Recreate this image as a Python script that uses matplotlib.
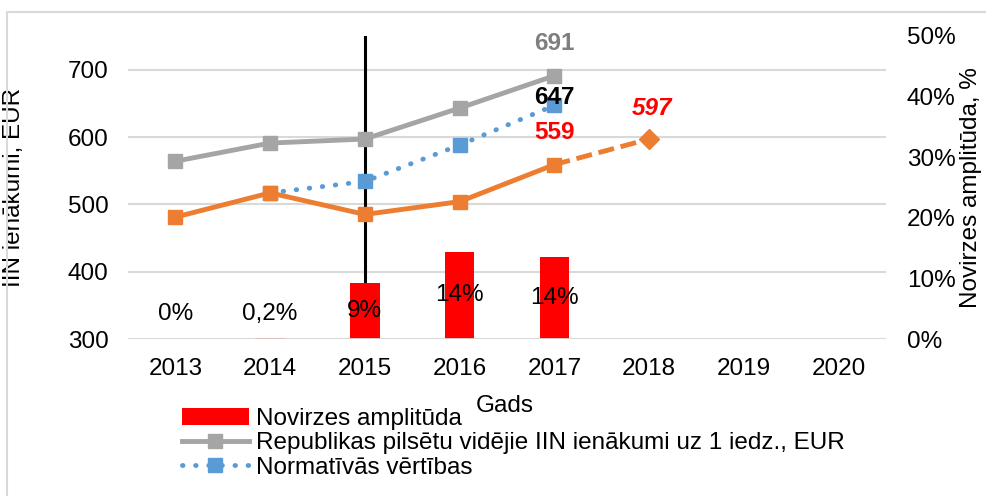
import matplotlib
matplotlib.use('Agg')
import matplotlib.pyplot as plt
from matplotlib.patches import Rectangle
import numpy as np

plt.rcParams['font.family'] = ['Liberation Sans', 'DejaVu Sans']

years = ['2013', '2014', '2015', '2016', '2017', '2018', '2019', '2020']
amplitude = [0.0, 0.2, 9.2, 14.4, 13.6]          # %
amplitude_labels = ['0%', '0,2%', '9%', '14%', '14%']
republic_avg = [564, 591, 597, 643, 691]         # 2013-2017
normative = [517, 534, 588, 647]                 # 2014-2017
city = [481, 517, 485, 504, 559]                 # 2013-2017
forecast = [559, 597]                            # 2017-2018

GREY = '#A5A5A5'
ORANGE = '#ED7D31'
BLUE = '#5B9BD5'
RED = '#FF0000'
FS = 17.5

fig = plt.figure(figsize=(9.86, 4.96), dpi=100)
ax = fig.add_axes([128 / 986, 1 - 339 / 496, (886 - 128) / 986, (339 - 36) / 496])
ax2 = ax.twinx()

x = np.arange(len(years))

# grid + marker line for 2015
ax.set_ylim(300, 750)
ax.set_yticks([300, 400, 500, 600, 700])
ax.set_xlim(-0.5, len(years) - 0.5)
ax.yaxis.grid(True, color='#D9D9D9', lw=1.5)
ax.set_axisbelow(True)
ax.axvline(2, color='black', lw=2.2, zorder=1)

# lines
ax.plot(x[:5], republic_avg, color=GREY, lw=3.5, marker='s', ms=10, zorder=3,
        label='Republikas pilsētu vidējie IIN ienākumi uz 1 iedz., EUR')
ax.plot(x[1:5], normative, color=BLUE, lw=3.5, ls=(0, (0.1, 2.6)), dash_capstyle='round',
        marker='s', ms=10, zorder=3, label='Normatīvās vērtības')
ax.plot(x[:5], city, color=ORANGE, lw=3.5, marker='s', ms=10, zorder=3)
ax.plot(x[4:6], forecast, color=ORANGE, lw=3.5, ls=(0, (3.3, 1.4)), zorder=3)
ax.plot(x[5], forecast[1], color=ORANGE, marker='D', ms=10, ls='none', zorder=3)

# value labels
ax.annotate(str(republic_avg[-1]), (x[4], republic_avg[-1]), xytext=(0, 23), textcoords='offset points',
            ha='center', va='center', fontsize=FS, fontweight='bold', color='#7F7F7F')
ax.annotate(str(normative[-1]), (x[4], normative[-1]), xytext=(0, 6), textcoords='offset points',
            ha='center', va='center', fontsize=FS, fontweight='bold', color='black', zorder=5)
ax.annotate(str(city[-1]), (x[4], city[-1]), xytext=(0, 23), textcoords='offset points',
            ha='center', va='center', fontsize=FS, fontweight='bold', color=RED)
ax.annotate(str(forecast[-1]), (x[5], forecast[-1]), xytext=(2, 22), textcoords='offset points',
            ha='center', va='center', fontsize=FS, fontweight='bold', fontstyle='italic', color=RED)

# bars on secondary axis
ax2.set_ylim(0, 50)
ax2.set_yticks([0, 10, 20, 30, 40, 50])
ax2.set_yticklabels([f'{v}%' for v in range(0, 60, 10)])
ax2.bar(x[:5], amplitude, width=0.31, color=RED, label='Novirzes amplitūda', zorder=2)
ax2.axhline(0, color='#D9D9D9', lw=2, zorder=3)
for xi, v, lab in zip(x[:5], amplitude, amplitude_labels):
    ax2.text(xi, max(v / 2, 4.1), lab, ha='center', va='center', fontsize=FS, color='black', zorder=4)

for a in (ax, ax2):
    for s in a.spines.values():
        s.set_visible(False)
    a.tick_params(length=0, labelsize=FS, colors='black')
ax.tick_params(axis='y', pad=14)
ax2.tick_params(axis='y', pad=15)
ax.set_xticks(x)
ax.set_xticklabels(years)
ax.tick_params(axis='x', pad=14)

ax.set_ylabel('IIN ienākumi, EUR', fontsize=FS)
ax2.set_ylabel('Novirzes amplitūda, %', fontsize=FS)
ax.set_xlabel('Gads', fontsize=FS)
ax.yaxis.set_label_coords(-(128 - 25) / 758, 0.5)
ax2.yaxis.set_label_coords(1 + (960 - 886) / 758, 0.5)
ax.xaxis.set_label_coords((505 - 128) / 758, -(395 - 339) / 303)

h1, l1 = ax.get_legend_handles_labels()
h2, l2 = ax2.get_legend_handles_labels()
fig.legend(h2 + h1, l2 + l1, loc='upper left', bbox_to_anchor=(182 / 986, 1 - 408 / 496),
           frameon=False, fontsize=FS, handlelength=2.75, labelspacing=0.1,
           handletextpad=0.3, borderaxespad=0, borderpad=0)

# chart border
fig.patches.append(Rectangle((7 / 986, -0.05), 1.1, 1 - 12 / 496 + 0.05, transform=fig.transFigure,
                             fill=False, edgecolor='#D9D9D9', lw=1.5))

fig.savefig('out.png', dpi=100)
